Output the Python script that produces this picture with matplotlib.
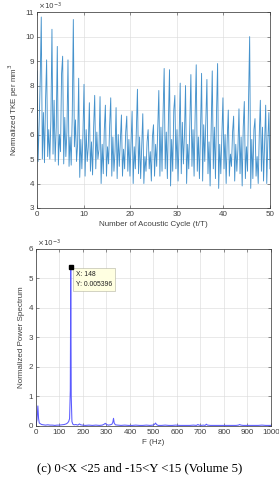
import numpy as np
import matplotlib
matplotlib.use('Agg')
import matplotlib.pyplot as plt

plt.rcParams['font.family'] = ['Liberation Sans', 'DejaVu Sans']

# TKE (x1e-3) over 50 acoustic cycles
tke = [8.6, 4.9, 6.4, 8.2,
       10.8, 5.0, 6.9, 4.85, 7.4,
       9.05, 5.1, 6.2, 5.0, 6.6,
       10.3, 5.2, 7.4, 4.9, 6.3,
       9.6, 4.75, 6.0, 5.3, 8.5,
       9.2, 4.8, 6.7, 5.1, 6.1,
       9.05, 4.7, 5.9, 4.75, 6.8,
       10.7, 5.5, 6.6, 4.9, 5.6,
       8.3, 4.25, 5.8, 4.6, 6.0,
       8.05, 4.3, 6.2, 4.9, 5.5,
       7.3, 4.5, 5.7, 4.35, 6.3,
       7.6, 4.6, 6.1, 5.0, 5.4,
       7.55, 4.0, 5.6, 4.4, 6.2,
       7.2, 4.3, 5.5, 4.8, 6.4,
       7.5, 4.3, 5.9, 4.5, 5.3,
       7.1, 4.2, 6.0, 4.7, 5.8,
       6.8, 4.3, 5.4, 4.6, 6.1,
       6.75, 4.5, 5.8, 4.3, 5.6,
       6.95, 4.0, 5.5, 4.6, 6.3,
       7.85, 4.4, 5.9, 4.2, 5.5,
       6.85, 4.0, 5.1, 4.5, 5.7,
       6.2, 4.6, 5.3, 4.1, 5.9,
       6.4, 4.3, 5.6, 4.7, 6.2,
       7.8, 4.3, 6.3, 4.5, 6.9,
       8.7, 4.6, 6.1, 4.2, 6.6,
       8.65, 3.9, 5.8, 4.5, 7.0,
       7.6, 4.6, 6.2, 4.1, 5.9,
       8.1, 4.4, 6.5, 4.8, 6.0,
       8.0, 4.0, 5.6, 4.6, 6.4,
       8.45, 4.7, 6.2, 4.3, 6.8,
       8.85, 4.5, 5.9, 4.2, 6.1,
       8.5, 4.1, 6.4, 4.9, 6.6,
       8.25, 4.4, 5.7, 3.9, 6.2,
       8.6, 4.6, 6.3, 4.2, 6.9,
       8.9, 3.8, 5.6, 4.4, 6.0,
       7.5, 4.6, 6.0, 4.0, 5.8,
       7.0, 4.3, 5.2, 4.7, 6.1,
       6.75, 4.1, 5.6, 4.5, 5.4,
       7.05, 4.4, 5.9, 3.9, 6.3,
       7.35, 4.2, 5.5, 4.5, 7.5,
       10.0, 3.8, 5.8, 4.2, 6.2,
       6.65, 4.3, 5.1, 4.0, 6.0,
       7.4, 4.5, 6.3, 4.1, 5.6,
       7.2, 4.0, 5.7, 6.9, 4.6]
cycles = np.linspace(0, 50, len(tke))

# normalized power spectrum (x1e-3)
freq = [0, 4, 8, 11, 14, 18, 24, 32, 40, 50,
        60, 70, 80, 90, 100, 110, 120, 128, 134, 139,
        143, 146, 148, 150, 153, 157, 162, 170, 178, 185,
        190, 198, 210, 225, 240, 255, 270, 282, 290, 295,
        300, 308, 316, 323, 327, 330, 333, 338, 348, 362,
        378, 394, 410, 425, 440, 455, 470, 485, 498, 505,
        509, 513, 520, 535, 550, 565, 580, 595, 610, 625,
        640, 655, 670, 683, 689, 694, 702, 712, 720, 725,
        730, 742, 758, 774, 790, 806, 822, 838, 852, 862,
        867, 872, 882, 898, 914, 930, 946, 962, 978, 992, 1000]
power = [0.05, 0.2, 0.68, 0.25, 0.1, 0.08, 0.05, 0.04, 0.03, 0.04,
         0.03, 0.03, 0.02, 0.03, 0.03, 0.04, 0.05, 0.07, 0.1, 0.15,
         0.25, 1.2, 5.396, 1.0, 0.15, 0.06, 0.04, 0.05, 0.03, 0.07,
         0.04, 0.03, 0.02, 0.03, 0.02, 0.03, 0.02, 0.03, 0.06, 0.09,
         0.05, 0.03, 0.04, 0.06, 0.12, 0.26, 0.1, 0.04, 0.03, 0.02,
         0.03, 0.02, 0.02, 0.03, 0.02, 0.02, 0.03, 0.02, 0.03, 0.06,
         0.1, 0.05, 0.02, 0.02, 0.03, 0.02, 0.02, 0.03, 0.02, 0.02,
         0.02, 0.02, 0.03, 0.02, 0.05, 0.03, 0.02, 0.03, 0.02, 0.06,
         0.03, 0.02, 0.02, 0.02, 0.02, 0.02, 0.02, 0.02, 0.02, 0.03,
         0.05, 0.03, 0.02, 0.02, 0.02, 0.02, 0.02, 0.03, 0.02, 0.02, 0.02]
tip_f = 148
tip_p = 5.396

fs = 5.8
axc = '#404040'


def matlab_style(ax):
    for s in ax.spines.values():
        s.set_color('#303030')
        s.set_linewidth(0.5)
    ax.tick_params(direction='in', length=2, width=0.4, colors=axc,
                   labelsize=fs, pad=2, top=True, right=True)
    ax.grid(True, color='#dcdcdc', lw=0.45)
    ax.set_axisbelow(True)
    ax.text(0.005, 1.0, r'$\times10^{-3}$', transform=ax.transAxes,
            fontsize=5.2, color=axc, ha='left', va='bottom')


fig = plt.figure(figsize=(2.79, 4.80), dpi=100)

#上图
ax1 = fig.add_axes([0.1326, 0.5667, 0.835, 0.408])
ax1.plot(cycles, tke, color='#4592cc', lw=0.65)
ax1.set_xlim(0, 50)
ax1.set_ylim(3, 11)
ax1.set_xticks(range(0, 51, 10))
ax1.set_yticks(range(3, 12))
ax1.set_xlabel('Number of Acoustic Cycle (t/T)', fontsize=fs, color=axc, labelpad=2)
ax1.set_ylabel('Normalized TKE per mm$^3$', fontsize=fs, color=axc, labelpad=3)
matlab_style(ax1)

#下图
ax2 = fig.add_axes([0.129, 0.1125, 0.842, 0.369])
ax2.plot(freq, power, color='#5a5aff', lw=0.75)
ax2.set_xlim(0, 1000)
ax2.set_ylim(0, 6)
ax2.set_xticks(range(0, 1001, 100))
ax2.set_yticks(range(0, 7))
ax2.set_xlabel('F (Hz)', fontsize=fs, color=axc, labelpad=2)
ax2.set_ylabel('Normalized Power Spectrum', fontsize=fs, color=axc, labelpad=3)
matlab_style(ax2)
ax2.plot([tip_f], [tip_p], marker='s', ms=3, color='black', zorder=5)
ax2.text(tip_f + 22, tip_p - 0.15, 'X: %d\nY: %.6f' % (tip_f, tip_p / 1000.0),
         fontsize=4.9, color='#202020', ha='left', va='top', linespacing=1.5,
         bbox=dict(boxstyle='square,pad=0.45', fc='#ffffe1', ec='#b0b0a0', lw=0.4))

fig.text(0.5, 0.012, '(c) 0<X <25 and -15<Y <15 (Volume 5)',
         family=['Liberation Serif', 'DejaVu Serif'], fontsize=9.2,
         ha='center', va='bottom', color='black')

fig.savefig('out.png', dpi=100)
